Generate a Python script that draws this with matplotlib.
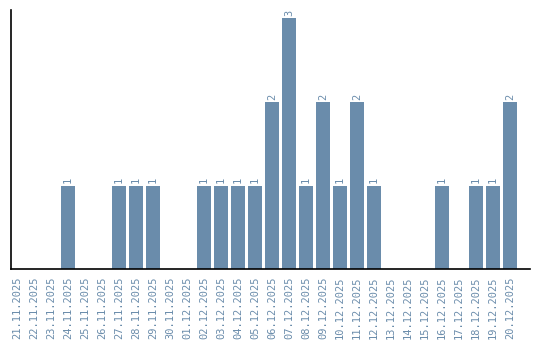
import matplotlib.pyplot as plt

dates = ['21.11.2025', '22.11.2025', '23.11.2025', '24.11.2025', '25.11.2025',
         '26.11.2025', '27.11.2025', '28.11.2025', '29.11.2025', '30.11.2025',
         '01.12.2025', '02.12.2025', '03.12.2025', '04.12.2025', '05.12.2025',
         '06.12.2025', '07.12.2025', '08.12.2025', '09.12.2025', '10.12.2025',
         '11.12.2025', '12.12.2025', '13.12.2025', '14.12.2025', '15.12.2025',
         '16.12.2025', '17.12.2025', '18.12.2025', '19.12.2025', '20.12.2025']
counts = [0, 0, 0, 1, 0, 0, 1, 1, 1, 0,
          0, 1, 1, 1, 1, 2, 3, 1, 2, 1,
          2, 1, 0, 0, 0, 1, 0, 1, 1, 2]

color = '#6a8cab'

fig = plt.figure(figsize=(5.4, 3.4), dpi=100)
ax = fig.add_axes([0.0204, 0.2074, 0.962, 0.7632])

x = list(range(len(dates)))
bars = ax.bar(x, counts, width=0.82, color=color)

for xi, c in zip(x, counts):
    if c > 0:
        ax.text(xi, c + 0.03, str(c), rotation=90, ha='center', va='bottom',
                color=color, fontsize=7.5, family='DejaVu Sans Mono')

ax.set_xlim(-0.35, 30.2)
ax.set_ylim(0, 3.1)
ax.set_xticks(x)
ax.set_xticklabels(dates, rotation=90, color=color, fontsize=7.5,
                   family='DejaVu Sans Mono')
ax.tick_params(axis='x', length=0, pad=5)
ax.set_yticks([])

for s in ['top', 'right']:
    ax.spines[s].set_visible(False)
for s in ['left', 'bottom']:
    ax.spines[s].set_linewidth(1.2)

fig.savefig('out.png', dpi=100)
